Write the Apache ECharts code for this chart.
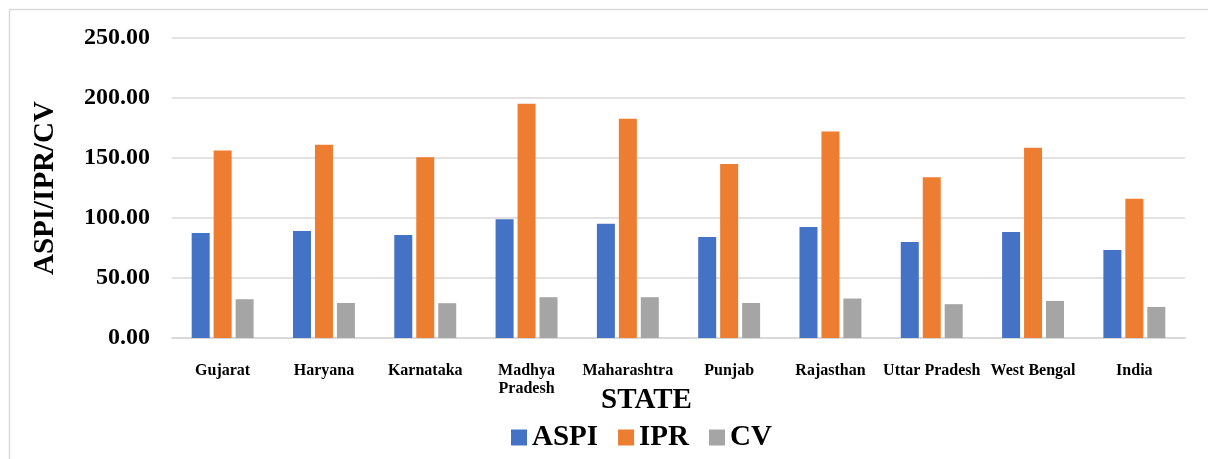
<!DOCTYPE html>
<html>
<head>
<meta charset="utf-8">
<script src="https://cdn.jsdelivr.net/npm/echarts@6/dist/echarts.min.js"></script>
<style>
  html, body { margin: 0; padding: 0; background: #fff; }
  #chart { width: 1208px; height: 459px; }
</style>
</head>
<body>
<div id="chart"></div>
<script>
// data
const states = ['Gujarat', 'Haryana', 'Karnataka', 'Madhya Pradesh', 'Maharashtra',
  'Punjab', 'Rajasthan', 'Uttar Pradesh', 'West Bengal', 'India']
const aspi = [87.5, 89.1, 85.8, 98.9, 95.2, 84.1, 92.5, 80.0, 88.3, 73.3]
const ipr = [156.2, 161.0, 150.7, 195.2, 182.7, 145.1, 172.1, 134.0, 158.5, 116.1]
const cv = [32.3, 29.2, 29.0, 34.0, 34.0, 29.2, 32.9, 28.2, 30.9, 25.9]

const serif = 'Liberation Serif'
const chart = echarts.init(document.getElementById('chart'))

function barSeries(name, data, color) {
  return {
    name: name,
    type: 'bar',
    data: data,
    barWidth: 18,
    barGap: '22%',
    itemStyle: { color: color }
  }
}

const option = {
  animation: false,
  textStyle: { fontFamily: serif },
  graphic: [
    {
      type: 'rect',
      shape: { x: 9.5, y: 9.5, width: 1220, height: 470 },
      style: { fill: 'none', stroke: '#d9d9d9', lineWidth: 1.5 }
    }
  ],
  grid: { left: 172, right: 23, top: 38, bottom: 121 },
  legend: {
    bottom: 2,
    left: 506,
    itemWidth: 16,
    itemHeight: 16,
    itemGap: 20,
    icon: 'rect',
    textStyle: { fontFamily: serif, fontWeight: 'bold', fontSize: 29, color: '#000' },
    data: ['ASPI', 'IPR', 'CV']
  },
  xAxis: {
    type: 'category',
    data: states,
    name: 'STATE',
    nameLocation: 'middle',
    nameMoveOverlap: false,
    nameGap: 48,
    nameTextStyle: {
      fontFamily: serif, fontWeight: 'bold', fontSize: 29, color: '#000',
      padding: [0, 64, 0, 0]
    },
    axisTick: { show: false },
    axisLine: { lineStyle: { color: '#d9d9d9', width: 2 } },
    axisLabel: {
      interval: 0,
      margin: 24,
      fontFamily: serif,
      fontWeight: 'bold',
      fontSize: 16,
      lineHeight: 18,
      color: '#000',
      formatter: (v) => v.replace('Madhya ', 'Madhya\n')
    }
  },
  yAxis: {
    type: 'value',
    min: 0,
    max: 250,
    interval: 50,
    name: 'ASPI/IPR/CV',
    nameLocation: 'middle',
    nameMoveOverlap: false,
    nameGap: 112,
    nameTextStyle: { fontFamily: serif, fontWeight: 'bold', fontSize: 29, color: '#000' },
    axisLabel: {
      margin: 22,
      fontFamily: serif,
      fontWeight: 'bold',
      fontSize: 24,
      color: '#000',
      formatter: (v) => v.toFixed(2)
    },
    splitLine: { lineStyle: { color: '#d9d9d9', width: 1.5 } }
  },
  series: [
    barSeries('ASPI', aspi, '#4472C4'),
    barSeries('IPR', ipr, '#ED7D31'),
    barSeries('CV', cv, '#A5A5A5')
  ]
}

chart.setOption(option)
</script>
</body>
</html>
